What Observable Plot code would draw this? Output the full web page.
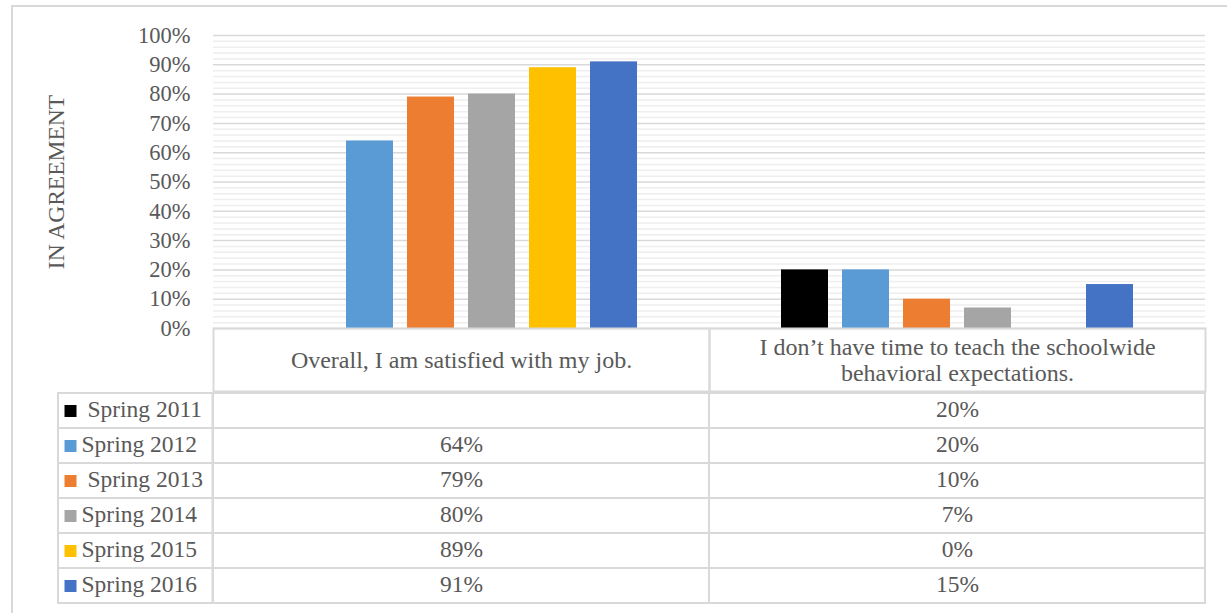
<!DOCTYPE html>
<html>
<head>
<meta charset="utf-8">
<script src="https://cdn.jsdelivr.net/npm/d3@7"></script>
<script src="https://cdn.jsdelivr.net/npm/@observablehq/plot@0.6"></script>
<style>
  html, body { margin: 0; padding: 0; background: #ffffff; }
  #wrap { position: relative; width: 1227px; height: 613px; overflow: hidden; background: #ffffff; }
  #border { position: absolute; left: 11px; top: 5px; width: 1300px; height: 700px; border: 2px solid #d9d9d9; box-sizing: border-box; }
  #chart { position: absolute; left: 0; top: 0; }
  #table { position: absolute; left: 0; top: 389px; }
</style>
</head>
<body>
<div id="wrap">
  <div id="border"></div>
  <div id="chart"></div>
  <div id="table"></div>
</div>
<script>
// ---- data ----
const categories = [
  "Overall, I am satisfied with my job.",
  "I don’t have time to teach the schoolwide behavioral expectations."
];
const series = ["Spring 2011", "Spring 2012", "Spring 2013", "Spring 2014", "Spring 2015", "Spring 2016"];
const legendLabels = ["\u00a0Spring 2011", "Spring 2012", "\u00a0Spring 2013", "Spring 2014", "Spring 2015", "Spring 2016"];
const colors = ["#000000", "#5b9bd5", "#ed7d31", "#a5a5a5", "#ffc000", "#4472c4"];
const satisfiedValues = [null, 64, 79, 80, 89, 91];
const noTimeValues = [20, 20, 10, 7, 0, 15];
const yTicks = [0, 10, 20, 30, 40, 50, 60, 70, 80, 90, 100];
const yTitle = "IN AGREEMENT";

// table built from the arrays
const valuesByCategory = [satisfiedValues, noTimeValues];
const barData = [];
categories.forEach((c, ci) => {
  series.forEach((s, si) => {
    barData.push({category: c, series: s, value: valuesByCategory[ci][si]});
  });
});

const textColor = "#595959";
const font = "'Liberation Serif', 'Times New Roman', serif";
const minorGrid = d3.range(0, 101, 2).filter(v => v % 10 !== 0);
const wrapLabel = s => s.replace("schoolwide ", "schoolwide\n");
const yMid = (yTicks[0] + yTicks[yTicks.length - 1]) / 2;

// ---- bar chart with header row ----
const chart = Plot.plot({
  width: 1227,
  height: 391,
  marginLeft: 212,
  marginRight: 22,
  marginTop: 35,
  marginBottom: 63,
  style: {fontFamily: font, fontSize: "22.5px", color: textColor, background: "transparent", overflow: "visible"},
  facet: {data: barData, x: "category"},
  fx: {domain: categories, padding: 0, axis: null},
  x: {domain: series, paddingInner: 0.236, paddingOuter: 1.155, axis: null},
  y: {
    domain: [0, 100],
    ticks: yTicks,
    tickSize: 0,
    tickPadding: 23,
    tickFormat: d => d + "%",
    label: null
  },
  color: {domain: series, range: colors},
  marks: [
    Plot.ruleY(minorGrid, {stroke: "#eeeeee", strokeWidth: 1.5}),
    Plot.ruleY(yTicks, {stroke: "#d9d9d9", strokeWidth: 1.5}),
    Plot.barY(barData, {x: "series", y: "value", fill: "series"}),
    Plot.frame({stroke: "#d9d9d9", strokeWidth: 2, insetTop: 293, insetBottom: -63}),
    Plot.text(barData, Plot.selectFirst({
      text: d => wrapLabel(d.category),
      frameAnchor: "bottom",
      dy: 31,
      lineAnchor: "middle",
      lineHeight: 1.1,
      fontSize: 24,
      fill: textColor
    })),
    // y-axis title, only beside the first facet
    Plot.text(barData, Plot.selectFirst({
      filter: d => d.category === categories[0],
      text: () => yTitle,
      y: () => yMid,
      frameAnchor: "left",
      textAnchor: "middle",
      rotate: -90,
      dx: -157,
      fontSize: 23.5,
      fill: textColor
    }))
  ]
});
document.getElementById("chart").appendChild(chart);

// ---- data table rows ----
const table = Plot.plot({
  width: 1227,
  height: 2 + 213 + 6,
  marginLeft: 212,
  marginRight: 22,
  marginTop: 2,
  marginBottom: 6,
  style: {fontFamily: font, fontSize: "23.5px", color: textColor, background: "transparent", overflow: "visible"},
  x: {domain: categories, padding: 0, axis: null},
  y: {domain: series, padding: 0, axis: null},
  color: {domain: series, range: colors},
  marks: [
    Plot.cell(barData, {x: "category", y: "series", fill: "none", stroke: "#d9d9d9", strokeWidth: 2}),
    Plot.cell(series, {x: () => categories[0], y: d => d, insetLeft: -155, insetRight: 496.5, fill: "none", stroke: "#d9d9d9", strokeWidth: 2}),
    Plot.dot(series, {y: d => d, frameAnchor: "left", dx: -142, symbol: "square", r: 6.77, fill: d => d}),
    Plot.text(series, {y: d => d, text: (d, i) => legendLabels[i], frameAnchor: "left", dx: -131, dy: -2, textAnchor: "start", fill: textColor}),
    Plot.text(barData.filter(d => d.value != null), {x: "category", y: "series", text: d => d.value + "%", dy: -2, fill: textColor})
  ]
});
document.getElementById("table").appendChild(table);
</script>
</body>
</html>
